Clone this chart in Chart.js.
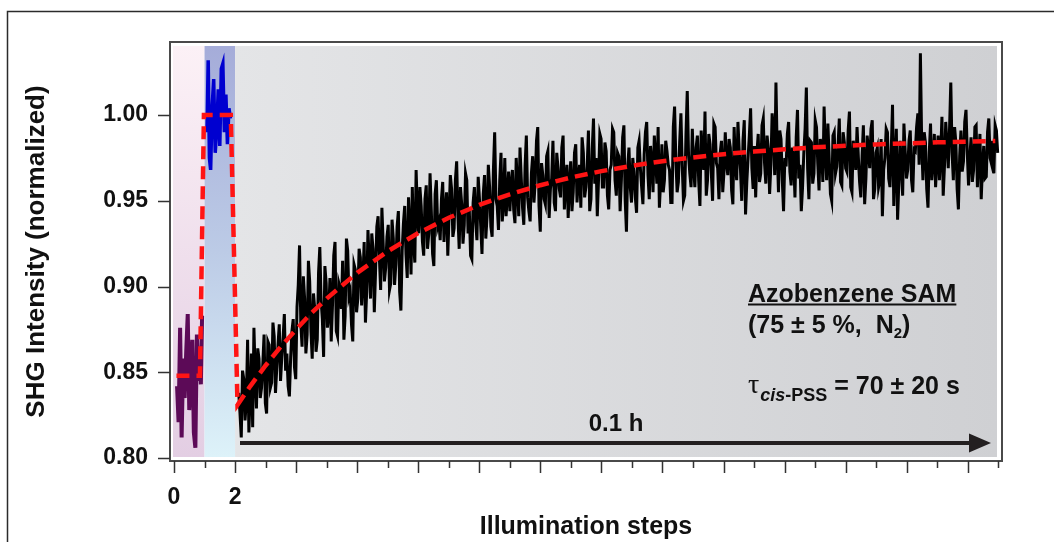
<!DOCTYPE html>
<html>
<head>
<meta charset="utf-8">
<script src="https://cdn.jsdelivr.net/npm/chart.js@4.4.1/dist/chart.umd.min.js"></script>
<style>
  html, body { margin: 0; padding: 0; background: #fff; }
  #wrap { width: 1054px; height: 542px; }
</style>
</head>
<body>
<div id="wrap"><canvas id="shg" width="1054" height="542"></canvas></div>
<script>
/* ---------- data ---------- */
// step 0-1 : dark state (purple trace)
const purpleX = [0.10, 0.15, 0.20, 0.25, 0.30, 0.35, 0.40, 0.45, 0.50, 0.55, 0.60, 0.65, 0.70, 0.75, 0.80, 0.85, 0.88, 0.92];
const purpleY = [0.842, 0.821, 0.876, 0.812, 0.858, 0.835, 0.862, 0.884, 0.828, 0.848, 0.869, 0.815, 0.806, 0.872, 0.845, 0.864, 0.843, 0.883];

// step 1-2 : after UV (blue trace)
const blueX = [1.08, 1.12, 1.16, 1.20, 1.25, 1.30, 1.35, 1.40, 1.45, 1.50, 1.55, 1.60, 1.65, 1.70, 1.75, 1.80, 1.85];
const blueY = [0.990, 1.032, 0.975, 0.968, 1.005, 1.021, 0.978, 0.992, 1.015, 0.982, 1.027, 1.030, 0.990, 1.012, 0.983, 1.004, 0.998];

// step 2 onwards : recovery (black trace)
// blackY = even samples, blackMid = the samples in between; one sample every blackStep
const blackStart = 2.12;
const blackStep = 0.0415;
const blackY = [
  0.838, 0.812, 0.846, 0.833, 0.815, 0.861, 0.876, 0.829, 0.858, 0.841, 0.872, 0.826,
  0.866, 0.844, 0.871, 0.852, 0.878, 0.859, 0.884, 0.861, 0.836, 0.874, 0.853, 0.888,
  0.924, 0.865, 0.893, 0.872, 0.903, 0.858, 0.887, 0.869, 0.923, 0.881, 0.912, 0.876,
  0.905, 0.889, 0.926, 0.871, 0.899, 0.915, 0.883, 0.921, 0.897, 0.868, 0.910, 0.893,
  0.917, 0.904, 0.879, 0.933, 0.893, 0.922, 0.909, 0.941, 0.898, 0.925, 0.911, 0.936,
  0.902, 0.928, 0.913, 0.944, 0.886, 0.937, 0.919, 0.952, 0.907, 0.925, 0.968, 0.931,
  0.947, 0.918, 0.959, 0.931, 0.944, 0.912, 0.962, 0.938, 0.951, 0.926, 0.955, 0.941,
  0.957, 0.934, 0.973, 0.922, 0.948, 0.936, 0.962, 0.944, 0.916, 0.958, 0.927, 0.951,
  0.919, 0.965, 0.941, 0.958, 0.929, 0.990, 0.947, 0.962, 0.938, 0.975, 0.953, 0.944,
  0.968, 0.937, 0.959, 0.981, 0.946, 0.970, 0.952, 0.938, 0.976, 0.961, 0.993, 0.932,
  0.965, 0.948, 0.979, 0.957, 0.985, 0.944, 0.969, 0.952, 0.988, 0.961, 0.940, 0.973,
  0.955, 0.983, 0.962, 0.946, 0.978, 0.958, 0.991, 0.951, 0.998, 0.975, 0.963, 0.986,
  0.958, 0.979, 0.945, 0.971, 0.990, 0.953, 0.976, 0.962, 0.994, 0.932, 0.981, 0.949,
  0.967, 0.943, 0.985, 0.958, 0.977, 0.996, 0.951, 0.972, 0.988, 0.960, 0.946, 0.983,
  0.962, 0.979, 0.968, 0.949, 1.005, 0.955, 0.984, 0.971, 0.953, 1.014, 0.966, 0.992,
  0.958, 0.988, 0.947, 0.976, 1.002, 0.962, 0.983, 0.950, 0.993, 0.969, 0.978, 0.955,
  0.990, 0.965, 0.981, 0.948, 0.972, 0.996, 0.968, 0.985, 0.942, 0.975, 1.004, 0.957,
  0.952, 0.989, 0.966, 0.998, 0.960, 0.980, 0.971, 0.992, 1.019, 0.955, 0.986, 0.944,
  0.970, 0.996, 0.959, 0.974, 0.987, 0.963, 0.944, 0.978, 1.016, 0.951, 0.984, 0.966,
  0.993, 0.956, 0.981, 1.005, 0.962, 0.975, 0.950, 0.990, 0.970, 0.998, 0.959, 0.984,
  0.967, 1.002, 0.955, 0.979, 0.993, 0.961, 0.976, 0.948, 0.988, 0.969, 0.997, 0.957,
  0.981, 0.962, 0.941, 0.975, 0.990, 0.958, 1.006, 0.972, 0.939, 0.985, 0.953, 0.979,
  0.968, 0.991, 0.955, 0.979, 1.001, 1.036, 0.962, 0.984, 0.946, 0.995, 0.973, 0.958,
  0.988, 0.977, 0.953, 0.996, 0.969, 1.019, 0.962, 0.984, 0.945, 0.991, 0.973, 1.003,
  0.959, 0.987, 0.968, 0.994, 0.975, 0.951, 0.982, 0.964, 0.998, 0.972, 0.966, 0.991
];
const blackMid = [
  0.826, 0.851, 0.822, 0.869, 0.837, 0.818, 0.849, 0.864, 0.835, 0.855, 0.832, 0.868,
  0.841, 0.879, 0.838, 0.866, 0.845, 0.870, 0.851, 0.842, 0.859, 0.881, 0.846, 0.901,
  0.878, 0.906, 0.861, 0.915, 0.874, 0.896, 0.862, 0.908, 0.892, 0.859, 0.902, 0.884,
  0.868, 0.918, 0.874, 0.902, 0.887, 0.869, 0.928, 0.894, 0.878, 0.913, 0.885, 0.922,
  0.889, 0.926, 0.897, 0.914, 0.931, 0.885, 0.935, 0.917, 0.946, 0.903, 0.929, 0.898,
  0.939, 0.901, 0.935, 0.897, 0.921, 0.947, 0.905, 0.934, 0.958, 0.914, 0.944, 0.958,
  0.926, 0.951, 0.922, 0.966, 0.919, 0.954, 0.935, 0.927, 0.961, 0.943, 0.918, 0.965,
  0.929, 0.962, 0.941, 0.958, 0.925, 0.966, 0.931, 0.918, 0.949, 0.938, 0.964, 0.935,
  0.954, 0.928, 0.971, 0.935, 0.968, 0.951, 0.933, 0.978, 0.949, 0.941, 0.967, 0.959,
  0.945, 0.975, 0.941, 0.963, 0.936, 0.988, 0.944, 0.966, 0.949, 0.985, 0.947, 0.972,
  0.951, 0.976, 0.940, 0.963, 0.949, 0.978, 0.957, 0.981, 0.945, 0.971, 0.959, 0.944,
  0.978, 0.949, 0.971, 0.987, 0.952, 0.970, 0.944, 0.980, 0.960, 0.941, 0.989, 0.958,
  0.984, 0.953, 0.968, 0.992, 0.962, 0.978, 0.944, 0.987, 0.951, 0.970, 0.958, 0.975,
  0.952, 0.981, 0.969, 0.948, 0.990, 0.965, 0.982, 0.955, 0.975, 0.993, 0.962, 0.955,
  0.985, 0.971, 0.949, 0.993, 0.974, 0.961, 1.001, 0.950, 0.989, 0.977, 0.958, 0.970,
  0.981, 0.962, 0.991, 0.968, 0.953, 0.989, 0.966, 0.995, 0.972, 0.951, 0.985, 0.967,
  0.972, 0.986, 0.956, 0.993, 0.962, 0.979, 0.950, 0.997, 0.961, 0.988, 0.969, 0.982,
  0.978, 0.961, 0.994, 0.972, 0.988, 0.954, 1.001, 0.965, 0.979, 0.991, 0.962, 0.975,
  0.989, 0.967, 0.981, 0.952, 1.003, 0.971, 0.958, 0.992, 0.969, 0.985, 0.960, 0.997,
  0.972, 0.986, 0.961, 0.979, 0.995, 0.954, 0.988, 0.966, 0.982, 0.961, 0.990, 0.969,
  0.991, 0.958, 0.985, 0.968, 0.976, 0.952, 0.994, 0.963, 0.979, 0.992, 0.951, 0.978,
  0.958, 0.986, 0.968, 0.992, 0.963, 0.979, 0.947, 0.992, 0.961, 0.969, 0.995, 0.963,
  0.985, 0.962, 0.980, 0.993, 0.971, 0.985, 0.990, 0.957, 0.978, 0.962, 0.989, 0.974,
  0.962, 0.999, 0.970, 0.983, 0.992, 0.978, 0.993, 0.957, 0.976, 0.967, 0.996, 0.978,
  0.975, 0.961, 0.993, 0.958, 0.989, 0.970, 0.963, 0.990, 0.975, 0.985, 0.994, 0.978
];

// red dashed fit (step levels + exponential recovery)
const fitX = [0.08, 0.85, 0.98, 1.86, 2.08, 2.5, 3, 3.5, 4, 4.5, 5, 6, 7, 8, 9, 10, 11, 12, 13, 14, 15, 16, 17, 18, 19, 20, 21, 22, 23, 24, 25, 26, 26.9];
const fitY = [0.848, 0.848, 1.000, 1.000, 0.831, 0.842, 0.854, 0.865, 0.875, 0.8845, 0.893, 0.908, 0.9206, 0.9312, 0.9401, 0.9476, 0.9538, 0.9591, 0.9636, 0.9673, 0.9704, 0.9731, 0.9753, 0.9772, 0.9787, 0.9800, 0.9812, 0.9821, 0.9829, 0.9835, 0.9841, 0.9845, 0.9849];

const yTicks = [0.80, 0.85, 0.90, 0.95, 1.00];
const xTicks = [0, 1, 2, 3, 4, 5, 6, 7, 8, 9, 10, 11, 12, 13, 14, 15, 16, 17, 18, 19, 20, 21, 22, 23, 24, 25, 26, 27];
const xLabelled = [0, 2];

const FONT = '"Liberation Sans", Arial, Helvetica, sans-serif';

const pts = (xs, ys) => xs.map((x, i) => ({ x: x, y: ys[i] }));
const blackAll = blackY.flatMap((v, i) => [v, blackMid[i]]);
const blackX = blackAll.map((_, i) => blackStart + i * blackStep);

/* ---------- background, frame, ticks, labels ---------- */
const decor = {
  id: 'decor',
  beforeDraw(chart) {
    const ctx = chart.ctx;
    ctx.save();
    ctx.strokeStyle = '#2b2b2b';
    ctx.lineWidth = 1.5;
    ctx.strokeRect(7.5, 11.5, 1400, 900);
    ctx.restore();
  },
  beforeDatasetsDraw(chart) {
    const { ctx, chartArea: a, scales: { x } } = chart;
    const l = a.left + 3, r = a.right - 5, t = a.top + 4, b = a.bottom - 4;
    const x1 = x.getPixelForValue(1), x2 = x.getPixelForValue(2);
    ctx.save();
    let g = ctx.createLinearGradient(0, t, 0, b);
    g.addColorStop(0, '#fcf1f6');
    g.addColorStop(1, '#e3cee3');
    ctx.fillStyle = g;
    ctx.fillRect(l, t, x1 - l, b - t);
    g = ctx.createLinearGradient(0, t, 0, b);
    g.addColorStop(0, '#a5acd9');
    g.addColorStop(0.5, '#bccbe6');
    g.addColorStop(1, '#ddf2f9');
    ctx.fillStyle = g;
    ctx.fillRect(x1, t, x2 - x1, b - t);
    g = ctx.createLinearGradient(x2, 0, r, 0);
    g.addColorStop(0, '#e4e5e7');
    g.addColorStop(1, '#cfd0d3');
    ctx.fillStyle = g;
    ctx.fillRect(x2, t, r - x2, b - t);
    ctx.restore();
  },
  afterDatasetsDraw(chart) {
    const { ctx, chartArea: a, scales: { x, y } } = chart;
    ctx.save();
    // frame
    ctx.strokeStyle = '#4a4a4a';
    ctx.lineWidth = 2;
    ctx.strokeRect(a.left, a.top, a.right - a.left, a.bottom - a.top);
    // tick marks
    ctx.strokeStyle = '#333';
    ctx.lineWidth = 1.5;
    ctx.beginPath();
    yTicks.forEach(v => {
      const py = Math.round(y.getPixelForValue(v)) + 0.5;
      ctx.moveTo(a.left - 12, py);
      ctx.lineTo(a.left, py);
    });
    xTicks.forEach(v => {
      const px = Math.round(x.getPixelForValue(v)) + 0.5;
      ctx.moveTo(px, a.bottom);
      ctx.lineTo(px, a.bottom + (v % 2 === 0 ? 12 : 7));
    });
    ctx.stroke();

    // time arrow
    const ay = 443;
    ctx.strokeStyle = '#231f20';
    ctx.fillStyle = '#231f20';
    ctx.lineWidth = 4;
    ctx.beginPath();
    ctx.moveTo(240, ay);
    ctx.lineTo(972, ay);
    ctx.stroke();
    ctx.beginPath();
    ctx.moveTo(969, ay - 9.5);
    ctx.lineTo(991, ay);
    ctx.lineTo(969, ay + 9.5);
    ctx.closePath();
    ctx.fill();

    // annotations
    ctx.fillStyle = '#111';
    ctx.textBaseline = 'alphabetic';
    ctx.textAlign = 'center';
    ctx.font = 'bold 24px ' + FONT;
    ctx.fillText('0.1 h', 616, 431);

    ctx.textAlign = 'left';
    ctx.font = 'bold 25px ' + FONT;
    const t1 = 'Azobenzene SAM';
    ctx.fillText(t1, 748, 302);
    ctx.fillRect(748, 303.5, ctx.measureText(t1).width, 2);

    let cx = 748;
    const t2 = '(75 \u00b1 5 %,  N';
    ctx.fillText(t2, cx, 333);
    cx += ctx.measureText(t2).width;
    ctx.font = 'bold 15px ' + FONT;
    ctx.fillText('2', cx, 338);
    cx += ctx.measureText('2').width;
    ctx.font = 'bold 25px ' + FONT;
    ctx.fillText(')', cx, 333);

    cx = 748;
    ctx.font = '28px "Liberation Serif", "Times New Roman", serif';
    ctx.fillText('\u03c4', cx, 393);
    cx += ctx.measureText('\u03c4').width + 1;
    ctx.font = 'italic bold 18px ' + FONT;
    ctx.fillText('cis', cx, 401);
    cx += ctx.measureText('cis').width;
    ctx.font = 'bold 18px ' + FONT;
    ctx.fillText('-PSS', cx, 401);
    cx += ctx.measureText('-PSS').width;
    ctx.font = 'bold 25px ' + FONT;
    ctx.fillText(' = 70 \u00b1 20 s', cx, 394);
    ctx.restore();
  }
};

/* ---------- chart ---------- */
const chart = new Chart(document.getElementById('shg'), {
  type: 'line',
  plugins: [decor],
  data: {
    datasets: [
      {
        label: 'fit',
        data: pts(fitX, fitY),
        borderColor: '#ff1414',
        borderWidth: 4.5,
        borderDash: [13, 7],
        pointRadius: 0,
        tension: 0
      },
      {
        label: 'recovery',
        data: pts(blackX, blackAll),
        borderColor: '#000000',
        borderWidth: 3,
        pointRadius: 0,
        tension: 0
      },
      {
        label: 'UV',
        data: pts(blueX, blueY),
        borderColor: '#0000d0',
        borderWidth: 3.5,
        pointRadius: 0,
        tension: 0
      },
      {
        label: 'dark',
        data: pts(purpleX, purpleY),
        borderColor: '#5c0a57',
        borderWidth: 4,
        pointRadius: 0,
        tension: 0
      }
    ]
  },
  options: {
    responsive: false,
    animation: false,
    layout: { padding: { left: 8, right: 52, top: 42, bottom: 0 } },
    plugins: {
      legend: { display: false },
      tooltip: { enabled: false }
    },
    scales: {
      x: {
        type: 'linear',
        min: -0.131,
        max: 27.12,
        afterBuildTicks: s => { s.ticks = xTicks.map(v => ({ value: v })); },
        afterFit: s => { s.height = 81; },
        grid: { display: false },
        border: { display: false },
        ticks: {
          autoSkip: false,
          maxRotation: 0,
          padding: 15,
          color: '#111',
          font: { family: FONT, size: 23, weight: 'bold' },
          callback: v => xLabelled.includes(v) ? String(v) : ''
        },
        title: {
          display: true,
          text: 'Illumination steps',
          color: '#111',
          font: { family: FONT, size: 25, weight: 'bold' },
          padding: { top: 0, bottom: 0 }
        }
      },
      y: {
        min: 0.7983,
        max: 1.0426,
        afterBuildTicks: s => { s.ticks = yTicks.map(v => ({ value: v })); },
        afterFit: s => { s.width = 162; },
        grid: { display: false },
        border: { display: false },
        ticks: {
          padding: 14,
          color: '#111',
          font: { family: FONT, size: 23, weight: 'bold' },
          callback: v => v.toFixed(2)
        },
        title: {
          display: true,
          text: 'SHG Intensity (normalized)',
          color: '#111',
          font: { family: FONT, size: 26, weight: 'bold' },
          padding: { top: 13, bottom: 0 }
        }
      }
    }
  }
});
</script>
</body>
</html>
